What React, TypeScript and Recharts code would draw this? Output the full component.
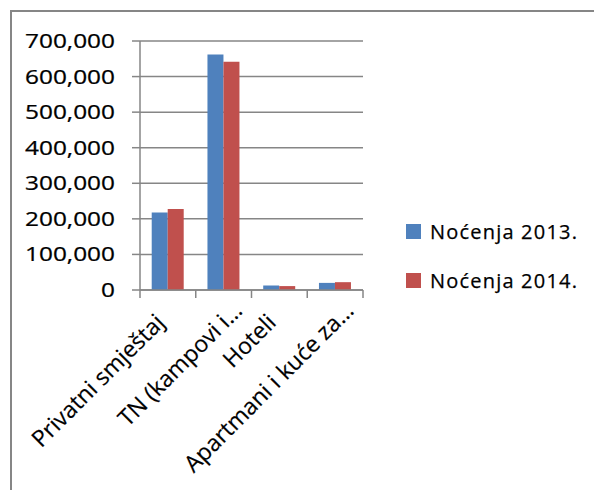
import React from "react";
import { BarChart, Bar, XAxis, YAxis, CartesianGrid } from "recharts";

const categories = ["Privatni smještaj", "TN (kampovi i…", "Hoteli", "Apartmani i kuće za…"];
const nocenja2013 = [218000, 662000, 13000, 20000];
const nocenja2014 = [228000, 642000, 11000, 22000];
const seriesNames = ["Noćenja 2013.", "Noćenja 2014."];
const yTicks = [0, 100000, 200000, 300000, 400000, 500000, 600000, 700000];

const COLORS = ["#4F81BD", "#C0504D"];
const AXIS = "#868686";
const FONT = "'Open Sans', sans-serif";

const W = 594;
const H = 482;
const M = { top: 33, right: 239, bottom: 10, left: 0 };
const Y_W = 132;
const PLOT_W = W - M.left - M.right - Y_W;

const data = categories.map((c, i) => ({
  name: c,
  s2013: nocenja2013[i],
  s2014: nocenja2014[i],
}));

const fmt = (v: number) => v.toLocaleString("en-US");

const YTick = (props: any) => {
  const { x, y, payload } = props;
  return (
    <text
      transform={`translate(${x},${y}) scale(1.22,1)`}
      textAnchor="end"
      dy={7}
      fontFamily={FONT}
      fontSize={20}
      fontWeight={500}
      stroke="#000"
      strokeWidth={0.25}
      fill="#000"
    >
      {fmt(payload.value)}
    </text>
  );
};

const XTick = (props: any) => {
  const { x, y, payload, index } = props;
  const band = PLOT_W / categories.length;
  const axisY = y - 8;
  const label: string = payload.value;
  const truncated = label.endsWith("…");
  const ox = truncated ? 20 : -2;
  const oy = truncated ? 22 : 34;
  return (
    <g>
      <line x1={x - band / 2} y1={axisY} x2={x - band / 2} y2={axisY + 8} stroke={AXIS} strokeWidth={1.5} />
      {index === categories.length - 1 && (
        <line x1={x + band / 2} y1={axisY} x2={x + band / 2} y2={axisY + 8} stroke={AXIS} strokeWidth={1.5} />
      )}
      <text
        transform={`translate(${x + ox},${axisY + oy}) rotate(-45)`}
        textAnchor="end"
        fontFamily={FONT}
        fontSize={23}
        fontWeight={500}
        stroke="#000"
        strokeWidth={0.2}
        fill="#000"
      >
        {label}
      </text>
    </g>
  );
};

export default function App() {
  return (
    <div style={{ position: "relative", width: W, height: H }}>
      <div
        style={{
          position: "absolute",
          left: 2,
          top: 2,
          width: W - 2,
          height: H - 2,
          borderLeft: `2px solid ${AXIS}`,
          borderTop: `2px solid ${AXIS}`,
          boxSizing: "border-box",
        }}
      />
      <BarChart
        width={W}
        height={H}
        data={data}
        margin={M}
        barCategoryGap="21%"
        barGap={0}
        style={{ position: "absolute", left: 0, top: 0 }}
      >
        <CartesianGrid vertical={false} stroke={AXIS} strokeWidth={1.5} />
        <XAxis
          dataKey="name"
          interval={0}
          height={190}
          axisLine={{ stroke: AXIS, strokeWidth: 1.5 }}
          tickLine={false}
          tickSize={8}
          tickMargin={0}
          tick={<XTick />}
        />
        <YAxis
          width={Y_W}
          domain={[0, 700000]}
          ticks={yTicks}
          interval={0}
          axisLine={{ stroke: AXIS, strokeWidth: 1.5 }}
          tickLine={{ stroke: AXIS, strokeWidth: 1.5 }}
          tickSize={8}
          tickMargin={17}
          tick={<YTick />}
        />
        <Bar dataKey="s2013" name={seriesNames[0]} fill={COLORS[0]} isAnimationActive={false} />
        <Bar dataKey="s2014" name={seriesNames[1]} fill={COLORS[1]} isAnimationActive={false} />
      </BarChart>
      <div
        style={{
          position: "absolute",
          left: 398,
          top: 199,
          fontFamily: FONT,
          fontSize: 20,
          fontWeight: 500,
          WebkitTextStroke: "0.25px #000",
        }}
      >
        {seriesNames.map((n, i) => (
          <div key={n} style={{ display: "flex", alignItems: "center", height: 49, letterSpacing: 1.2 }}>
            <span style={{ width: 15, height: 15, background: COLORS[i], marginRight: 9, display: "inline-block" }} />
            <span>{n}</span>
          </div>
        ))}
      </div>
    </div>
  );
}
